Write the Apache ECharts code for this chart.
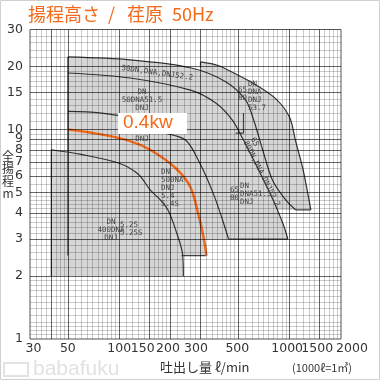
<!DOCTYPE html>
<html><head><meta charset="utf-8">
<script src="https://cdn.jsdelivr.net/npm/echarts@6/dist/echarts.min.js"></script>
<style>html,body{margin:0;padding:0;background:#fff}#c{width:380px;height:380px}</style>
</head><body><div id="c"></div>
<script>
// tick labels
const xTicks=[30,50,100,150,200,300,500,1000];
const xTick1500=[1500];
const xTick2000=[2000];
const yTicks=[1,2,3,4,5,6,7,8,9,10,15,20,30];
// grid lines (log paper)
const xMajor=[40,50,100,150,200,300,500,1000,1500];
const xMinor=[32.5,35,37.5,42.5,45,47.5,55,60,65,70,75,80,85,90,95,110,120,130,140,160,170,180,190,220,240,260,280,325,350,375,400,425,450,475,550,600,650,700,750,800,850,900,950,1100,1200,1300,1400,1600,1700,1800,1900];
const yMajor=[2,3,4,5,6,7,8,9,10,15,20];
const yMinor=[1.05,1.1,1.15,1.2,1.3,1.4,1.5,1.6,1.7,1.8,1.9,2.2,2.4,2.6,2.8,3.2,3.4,3.6,3.8,4.2,4.4,4.6,4.8,5.5,6.5,7.5,8.5,9.5,11,12,13,14,16,17,18,19,22,24,26,28];
// pump curves (Q l/min, H m)
const c525=[[40,8],[60,7.6],[100,6.9],[130,6.1],[152,5.15],[175,4.6],[194,4.1],[215,3.3],[235,2.57],[238,2.0]];
const c54=[[50,10],[77,9.5],[116,8.8],[152,8.0],[214,6.55],[262,5.3],[292,3.9],[314,3.0],[325,2.5]];
const c575=[[50,12.2],[77,12.0],[116,11.3],[175,9.75],[245,8.9],[300,6.8],[358,4.9],[404,3.7],[438,3.0]];
const c515=[[50,18.6],[116,17.6],[262,15.4],[367,13.4],[460,11.1],[536,8.9],[658,6.4],[801,4.6],[920,3.5],[975,3.0]];
const c522=[[50,22.2],[116,21.5],[262,19.7],[421,16.9],[552,13.8],[615,11.1],[694,8.0],[795,5.7],[949,4.6],[1086,4.13]];
const c537=[[300,21],[380,20.2],[470,18.6],[620,16.5],[830,14.0],[1000,11.4],[1080,8.9],[1200,6.4],[1331,4.13]];
// zone boundaries
const edges=[
 [[40,2],[40,8]],
 [[50,2.5],[50,22.2]],
 [[300,19.7],[300,21]],
 [[232,2.5],[325,2.5]],
 [[438,3],[975,3]],
 [[1086,4.13],[1331,4.13]],
 [[482,9.6],[536,9.6],[536,12.0]]
];
const zones=[
 [[40,2]].concat(c525),
 [[50,2.5]].concat(c54),
 [[50,3]].concat(c575),
 [[50,3]].concat(c515),
 [[50,4.13]].concat(c522),
 [[300,4.13]].concat(c537)
];

const chart=echarts.init(document.getElementById('c'));
const pad={30:[0,0,0,7],150:[0,13,0,0],200:[0,5,0,0],300:[0,9,0,0],500:[0,2,0,0],1000:[0,5,0,0],1500:[0,5,0,0],2000:[0,0,0,22]};
const lab={fontSize:12.5,color:'#333',fontFamily:'DejaVu Sans, sans-serif'};
const richAll=Object.fromEntries(Object.keys(pad).map(k=>['p'+k,Object.assign({padding:pad[k]},lab)]));
const fmt=v=>pad[v]?'{p'+v+'|'+v+'}':String(v);
function mk(vals,axis,color){return vals.map(v=>({[axis]:v,lineStyle:{color:color,width:1,type:'solid'}}));}
const lineSer=(d,color,w,z)=>({type:'line',data:d,showSymbol:false,symbol:'none',smooth:0.3,z:z,lineStyle:{color:color,width:w},silent:true,animation:false,clip:true});

const series=[
 {type:'custom',z:1,silent:true,animation:false,data:zones.map((z,i)=>i),clip:true,
  renderItem:(p,api)=>({type:'polygon',shape:{points:zones[p.dataIndex].map(pt=>api.coord(pt)),smooth:0},style:{fill:'#d6d6d6'}})},
 {type:'line',data:[[30,1]],showSymbol:false,lineStyle:{opacity:0},z:2,silent:true,animation:false,
  markLine:{silent:true,symbol:'none',animation:false,label:{show:false},
   data:[].concat(mk(xMinor,'xAxis','rgba(0,0,0,0.2)'),mk(yMinor,'yAxis','rgba(0,0,0,0.2)'),
     mk(xMajor,'xAxis','rgba(0,0,0,0.6)'),mk(yMajor,'yAxis','rgba(0,0,0,0.6)'))}},
];
edges.forEach(e=>series.push(Object.assign(lineSer(e,'#444',1.2,3),{smooth:false})));
[c525,c575,c515,c522,c537].forEach(c=>series.push(lineSer(c,'#333',1.2,3)));
series.push(lineSer(c54,'#f26a1b',2.5,4));

const small={fontSize:7.5,fill:'#444',fontFamily:'DejaVu Sans Mono, monospace',lineHeight:8};
function t(x,y,s,extra,rot){return {type:'text',x:x,y:y,z:10,rotation:rot||0,style:Object.assign({text:s},small,extra||{})};}
const ttl={fontSize:18,fill:'#f26a1b',fontFamily:'Noto Sans CJK JP'};
const xAx=vals=>({type:'log',logBase:10,min:30,max:2000,position:'bottom',axisLine:{show:false},splitLine:{show:false},
  minorSplitLine:{show:false},axisTick:{show:false},
  axisLabel:Object.assign({customValues:vals,margin:3,showMinLabel:true,showMaxLabel:true,hideOverlap:false,formatter:fmt,rich:richAll},lab)});

chart.setOption({
 animation:false,
 grid:{left:30,top:29.5,right:39,bottom:41,show:true,borderColor:'#555',borderWidth:1},
 xAxis:[xAx(xTicks),xAx(xTick1500),xAx(xTick2000)],
 yAxis:{type:'log',logBase:10,min:1,max:30,axisLine:{show:false},splitLine:{show:false},axisTick:{show:false},
   axisLabel:Object.assign({customValues:yTicks,margin:7,showMaxLabel:true,showMinLabel:true},lab)},
 series:series,
 graphic:[
  {type:'text',x:28,y:5,style:Object.assign({text:'揚程高さ'},ttl)},
  {type:'text',x:108,y:5,style:Object.assign({text:'/'},ttl)},
  {type:'text',x:127,y:5,style:Object.assign({text:'荏原'},ttl)},
  {type:'text',x:172,y:5,style:Object.assign({text:'50Hz'},ttl)},
  {type:'text',x:8,y:150,style:{text:'全\n揚\n程\nm',fontSize:12,lineHeight:12.5,fill:'#333',align:'center',fontFamily:'Noto Sans CJK JP'}},
  {type:'text',x:160,y:361,style:{text:'吐出し量 ℓ/min',fontSize:13,fill:'#333',fontFamily:'Noto Sans CJK JP'}},
  {type:'text',x:292,y:362,style:{text:'(1000ℓ=1㎥)',fontSize:11,fill:'#333',fontFamily:'Noto Sans CJK JP'}},
  {type:'text',x:33,y:359,style:{text:'babafuku',fontSize:21,fill:'#e2e2e2',fontFamily:'Liberation Sans'}},
  {type:'rect',x:4,y:363,shape:{width:24,height:13},style:{fill:'none',stroke:'#e2e2e2',lineWidth:2}},
  {type:'rect',x:0.5,y:0.5,shape:{width:379,height:379},style:{fill:'none',stroke:'#d0d0d0',lineWidth:1}},
  {type:'rect',x:118,y:113,z:9,shape:{width:69,height:21},style:{fill:'#fff'}},
  {type:'text',x:123,y:113,z:10,style:{text:'0.4kw',fontSize:19,fill:'#f26a1b',fontFamily:'Liberation Sans'}},
  t(122,64,'50DN,DNA,DNJ52.2',{},-0.14),
  t(142,88,'DN\n50DNA51.5\nDNJ',{align:'center'}),
  t(142,135,'DNJ',{align:'center'}),
  t(161,168,'DN\n500NA\nDNJ\n5.4\n5.4S',{}),
  t(111,218,'DN\n400DNA\nDNJ',{align:'center'}),
  t(120,221,'5.25\n5.25S',{}),
  t(248,80,'DN\nDNA\nDNJ\n53.7',{}),
  t(238,86,'65\n80',{}),
  t(240,182,'DN\nDNA51.5\nDNJ',{}),
  t(230,186,'65\n80',{}),
  t(256,136,'65\n80DN,DNA,DNJ52.2',{},-1.1)
 ]
});
</script></body></html>
